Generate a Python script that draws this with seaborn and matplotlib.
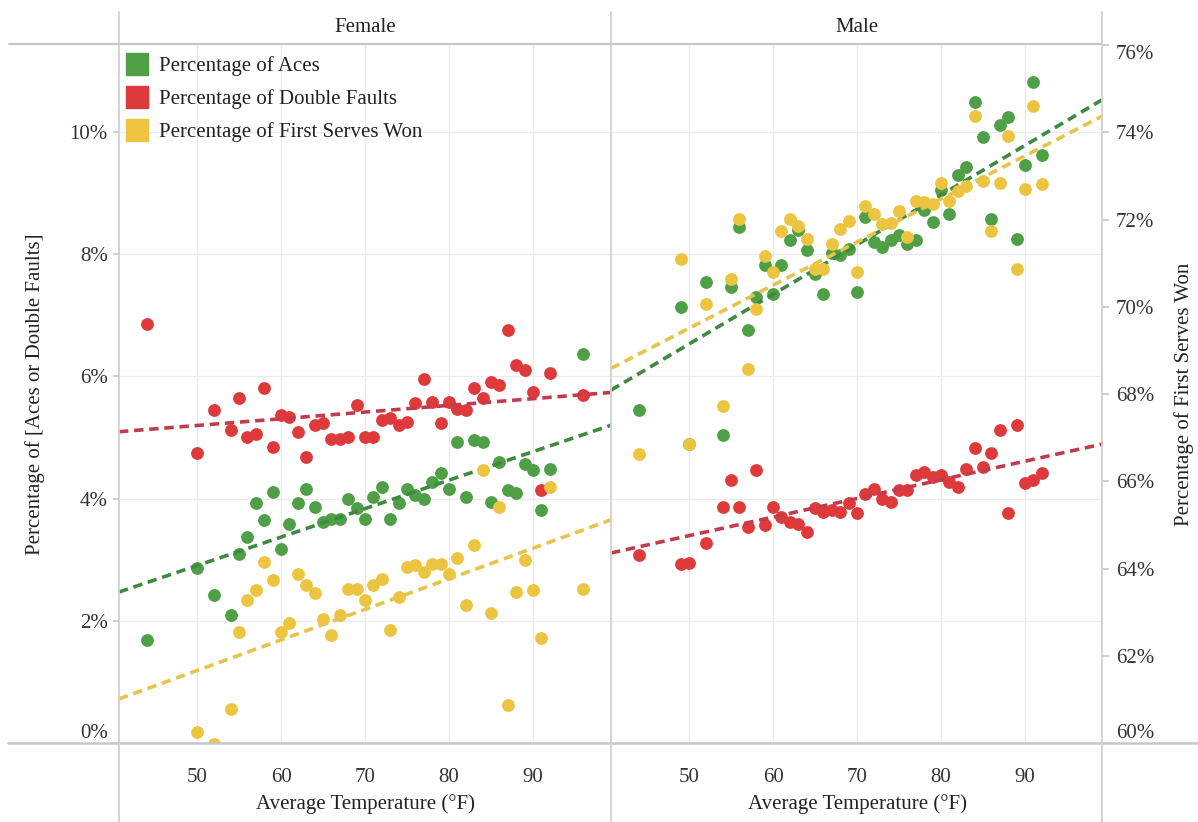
import numpy as np
import pandas as pd
import matplotlib
matplotlib.use("Agg")
import matplotlib.pyplot as plt
from matplotlib.lines import Line2D
from matplotlib.ticker import FuncFormatter
import seaborn as sns

# ---------------- data ----------------
female_temp = [44, 50, 52, 54, 55, 56, 57, 58, 59, 60, 61, 62, 63, 64, 65, 66, 67, 68, 69, 70,
               71, 72, 73, 74, 75, 76, 77, 78, 79, 80, 81, 82, 83, 84, 85, 86, 87, 88, 89, 90,
               91, 92, 96]
female_aces = [1.68, 2.86, 2.42, 2.09, 3.10, 3.37, 3.92, 3.65, 4.11, 3.18, 3.59, 3.92, 4.16, 3.86,
               3.62, 3.67, 3.67, 4.00, 3.84, 3.67, 4.03, 4.19, 3.67, 3.92, 4.16, 4.06, 4.00, 4.27,
               4.41, 4.16, 4.93, 4.03, 4.95, 4.93, 3.95, 4.60, 4.14, 4.09, 4.57, 4.46, 3.81, 4.49,
               6.37]
female_df = [6.86, 4.74, 5.45, 5.12, 5.64, 5.01, 5.06, 5.80, 4.85, 5.36, 5.34, 5.09, 4.68, 5.20,
             5.23, 4.98, 4.98, 5.01, 5.53, 5.01, 5.01, 5.28, 5.31, 5.20, 5.26, 5.56, 5.96, 5.58,
             5.23, 5.58, 5.47, 5.45, 5.80, 5.64, 5.91, 5.85, 6.75, 6.18, 6.10, 5.74, 4.14, 6.05,
             5.69]
# the 44°F value lies below the visible 60% floor (only its pull on the trend line is visible)
female_fsw = [56.4, 60.26, 59.97, 60.79, 62.55, 63.27, 63.50, 64.15, 63.73, 62.55, 62.74, 63.88,
              63.62, 63.43, 62.85, 62.47, 62.93, 63.54, 63.54, 63.27, 63.62, 63.77, 62.59, 63.35,
              64.03, 64.07, 63.92, 64.11, 64.11, 63.88, 64.23, 63.16, 64.53, 66.25, 62.97, 65.41,
              60.87, 63.46, 64.19, 63.50, 62.40, 65.86, 63.54]

male_temp = [44, 49, 50, 52, 54, 55, 56, 57, 58, 59, 60, 61, 62, 63, 64, 65, 66, 67, 68, 69, 70,
             71, 72, 73, 74, 75, 76, 77, 78, 79, 80, 81, 82, 83, 84, 85, 86, 87, 88, 89, 90, 91, 92]
male_aces = [5.45, 7.13, 4.90, 7.54, 5.04, 7.46, 8.44, 6.75, 7.30, 7.82, 7.35, 7.82, 8.23, 8.39,
             8.06, 7.68, 7.35, 8.01, 7.98, 8.09, 7.38, 8.61, 8.20, 8.12, 8.23, 8.31, 8.17, 8.23,
             8.72, 8.53, 9.04, 8.66, 9.29, 9.42, 10.49, 9.91, 8.58, 10.11, 10.24, 8.25, 9.45,
             10.81, 9.62]
male_df = [3.07, 2.93, 2.95, 3.27, 3.86, 4.30, 3.86, 3.54, 4.46, 3.57, 3.86, 3.70, 3.62, 3.59,
           3.46, 3.84, 3.78, 3.81, 3.78, 3.92, 3.76, 4.08, 4.16, 4.00, 3.95, 4.14, 4.14, 4.38,
           4.44, 4.36, 4.38, 4.27, 4.19, 4.49, 4.82, 4.52, 4.74, 5.12, 3.76, 5.20, 4.25, 4.30,
           4.41]
male_fsw = [66.63, 71.09, 66.86, 70.06, 67.73, 70.63, 72.01, 68.57, 69.95, 71.17, 70.79, 71.74,
            72.01, 71.85, 71.55, 70.86, 70.86, 71.43, 71.78, 71.97, 70.79, 72.31, 72.12, 71.89,
            71.93, 72.20, 71.59, 72.43, 72.39, 72.35, 72.84, 72.43, 72.65, 72.77, 74.37, 72.88,
            71.74, 72.84, 73.91, 70.86, 72.69, 74.60, 72.81]

panels = ["Female", "Male"]
series_labels = ["Percentage of Aces", "Percentage of Double Faults", "Percentage of First Serves Won"]
x_ticks = [50, 60, 70, 80, 90]
left_ticks = [0, 2, 4, 6, 8, 10]
right_ticks = [60, 62, 64, 66, 68, 70, 72, 74, 76]

# ---------------- style ----------------
FONT = ["Liberation Serif", "DejaVu Serif"]
sns.set_theme(style="white")
plt.rcParams["font.family"] = FONT
plt.rcParams["text.color"] = "#222222"

GREEN, RED, YELLOW = "#4e9f45", "#de3a3c", "#ecc440"
GREEN_L, RED_L, YELLOW_L = "#3e8a40", "#c23a4c", "#e6c44a"
GRID = "#ebebeb"
FRAME = "#c8c8c8"
FS = 15

W, H = 1198, 822
fig = plt.figure(figsize=(W / 100, H / 100), dpi=100)

XLIM = (40.7, 99.3)
YL = (0, 11.42)
YR = (60, 76)

def fx(px):
    return px / W

def fy(py):
    return 1 - py / H

pct = FuncFormatter(lambda v, p: f"{v:.0f}%")

ax_left, ax_w = [119, 611], 492
axes = []
for i, name in enumerate(panels):
    ax = fig.add_axes([fx(ax_left[i]), fy(743), ax_w / W, (743 - 45) / H])
    ax2 = ax.twinx()
    for a in (ax, ax2):
        for s in a.spines.values():
            s.set_visible(False)
    ax.set_xlim(*XLIM)
    ax.set_ylim(*YL)
    ax2.set_ylim(*YR)
    ax.set_xticks(x_ticks)
    ax.set_yticks(left_ticks)
    ax2.set_yticks(right_ticks)
    ax.grid(True, axis="both", color=GRID, linewidth=1.0)
    ax.set_axisbelow(True)
    axes.append((ax, ax2))

data = {
    "Female": (female_temp, female_aces, female_df, female_fsw),
    "Male": (male_temp, male_aces, male_df, male_fsw),
}

for i, name in enumerate(panels):
    ax, ax2 = axes[i]
    t, ac, dfl, fsw = data[name]
    dfp = pd.DataFrame({"temp": t, "aces": ac, "df": dfl, "fsw": fsw})
    dash = dict(linestyle=(0, (2.6, 1.6)), linewidth=2.6)
    # scatter points
    sns.scatterplot(data=dfp, x="temp", y="df", ax=ax, color=RED, s=85, linewidth=0, zorder=3)
    sns.scatterplot(data=dfp, x="temp", y="aces", ax=ax, color=GREEN, s=85, linewidth=0, zorder=3)
    sns.scatterplot(data=dfp, x="temp", y="fsw", ax=ax2, color=YELLOW, s=85, linewidth=0, zorder=3)
    # trend lines across full axis width
    sns.regplot(data=dfp, x="temp", y="df", ax=ax, scatter=False, ci=None, truncate=False,
                line_kws=dict(color=RED_L, zorder=4, **dash))
    sns.regplot(data=dfp, x="temp", y="aces", ax=ax, scatter=False, ci=None, truncate=False,
                line_kws=dict(color=GREEN_L, zorder=4, **dash))
    sns.regplot(data=dfp, x="temp", y="fsw", ax=ax2, scatter=False, ci=None, truncate=False,
                line_kws=dict(color=YELLOW_L, zorder=4, **dash))
    ax.set_xlim(*XLIM)
    ax.set_ylim(*YL)
    ax2.set_ylim(*YR)

    ax.set_xlabel("Average Temperature (°F)", fontsize=FS, labelpad=5, color="#222222")
    ax.tick_params(axis="x", length=0, labelsize=FS, pad=18, colors="#333333")
    ax2.set_ylabel("")
    if i == 0:
        ax.set_ylabel("Percentage of [Aces or Double Faults]", fontsize=FS, labelpad=18, color="#222222")
        ax.tick_params(axis="y", length=4, color=FRAME, labelsize=FS, pad=4, labelcolor="#333333")
        ax.yaxis.set_major_formatter(pct)
        ax2.tick_params(axis="y", right=False, labelright=False)
    else:
        ax.set_ylabel("")
        ax.tick_params(axis="y", left=False, labelleft=False)
        ax2.tick_params(axis="y", length=4, color=FRAME, labelsize=FS, pad=5.4, labelcolor="#333333")
        ax2.yaxis.set_major_formatter(pct)
        ax2.set_ylabel("Percentage of First Serves Won", fontsize=FS, labelpad=14, color="#222222")
    # header label
    fig.text(fx(ax_left[i] + ax_w / 2), fy(27), name, ha="center", va="center", fontsize=FS)

# keep edge tick labels inside the plotting band (as the reference does)
fig.canvas.draw()
ax0 = axes[0][0]
ylabs = ax0.get_yticklabels()
ylabs[0].set_verticalalignment("bottom")
rlabs = axes[1][1].get_yticklabels()
rlabs[0].set_verticalalignment("bottom")
rlabs[-1].set_verticalalignment("top")

# frame lines (Tableau-style panel borders)
def fline(x0, y0, x1, y1, lw=1.5, color=FRAME):
    fig.add_artist(Line2D([fx(x0), fx(x1)], [fy(y0), fy(y1)], color=color, linewidth=lw,
                          transform=fig.transFigure))

fline(9, 44, 1102, 44, lw=1.6)
fline(8, 743, 1198, 743, lw=1.8)
for xv in (119, 611, 1102):
    fline(xv, 12, xv, 822, lw=1.3, color="#d0d0d0")

# legend
handles = [Line2D([], [], marker="s", linestyle="none", markersize=16, color=c)
           for c in (GREEN, RED, YELLOW)]
fig.legend(handles, series_labels, loc="upper left", bbox_to_anchor=(fx(118), fy(48)),
           frameon=False, fontsize=FS, handletextpad=0.55, labelspacing=0.63,
           handlelength=1.0, borderaxespad=0)

fig.savefig("out.png", dpi=100)
